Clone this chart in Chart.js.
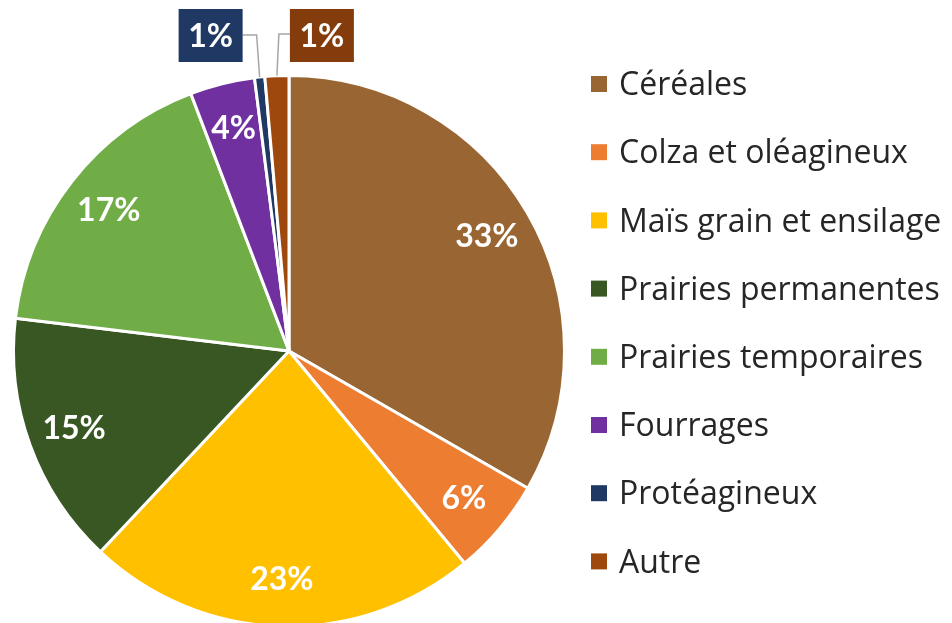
<!DOCTYPE html>
<html>
<head>
<meta charset="utf-8">
<script src="https://cdn.jsdelivr.net/npm/chart.js@4/dist/chart.umd.min.js"></script>
<style>
  html, body { margin: 0; padding: 0; background: #fff; overflow: hidden; }
  #wrap { width: 952px; height: 640px; position: relative; }
</style>
</head>
<body>
<div id="wrap"><canvas id="pieChart"></canvas></div>
<script>
// données
const categories = ['Céréales', 'Colza et oléagineux', 'Maïs grain et ensilage', 'Prairies permanentes',
  'Prairies temporaires', 'Fourrages', 'Protéagineux', 'Autre'];
const shares = [33.3, 5.7, 23.0, 14.9, 17.3, 3.8, 0.6, 1.4];
const sliceColors = ['#996633', '#ED7D31', '#FFC000', '#385723', '#70AD47', '#7030A0', '#203864', '#9E480E'];
const calloutColors = { 6: '#203864', 7: '#843C0C' };

const fontName = 'Lato, "Open Sans", sans-serif';

// étiquettes des parts
const sliceLabels = {
  id: 'sliceLabels',
  afterDatasetsDraw(chart) {
    const ctx = chart.ctx;
    const meta = chart.getDatasetMeta(0);
    ctx.save();
    ctx.textAlign = 'center';
    ctx.textBaseline = 'middle';
    ctx.font = 'bold 32px ' + fontName;
    meta.data.forEach((arc, i) => {
      const txt = Math.round(shares[i]) + '%';
      const mid = (arc.startAngle + arc.endAngle) / 2;
      if (calloutColors[i]) {
        // boîte au-dessus avec trait de rappel
        const bw = 64, bh = 53;
        const edgeX = arc.x + Math.cos(mid) * arc.outerRadius;
        const edgeY = arc.y + Math.sin(mid) * arc.outerRadius;
        const bx = i === 6 ? edgeX - 81 : edgeX + 13;
        const by = 9;
        ctx.strokeStyle = '#A6A6A6';
        ctx.lineWidth = 1.5;
        ctx.beginPath();
        if (i === 6) {
          ctx.moveTo(bx + bw, by + 26);
          ctx.lineTo(edgeX - 3, by + 26);
        } else {
          ctx.moveTo(bx, by + 25);
          ctx.lineTo(edgeX + 2, by + 25);
        }
        ctx.lineTo(edgeX, edgeY);
        ctx.stroke();
        ctx.fillStyle = calloutColors[i];
        ctx.fillRect(bx, by, bw, bh);
        ctx.fillStyle = '#fff';
        ctx.fillText(txt, bx + bw / 2, by + bh / 2 + 1);
      } else {
        const r = arc.outerRadius * 0.83;
        ctx.fillStyle = '#fff';
        ctx.fillText(txt, arc.x + Math.cos(mid) * r, arc.y + Math.sin(mid) * r);
      }
    });
    ctx.restore();
  }
};

// légende à droite
const sideLegend = {
  id: 'sideLegend',
  afterDraw(chart) {
    const ctx = chart.ctx;
    ctx.save();
    ctx.font = '32px "Open Sans", sans-serif';
    ctx.textBaseline = 'middle';
    ctx.textAlign = 'left';
    categories.forEach((name, i) => {
      const y = 84 + i * 68.2;
      ctx.fillStyle = sliceColors[i];
      ctx.fillRect(591, y - 8, 16, 16);
      ctx.fillStyle = '#262626';
      ctx.fillText(name, 619, y + 2);
    });
    ctx.restore();
  }
};

new Chart(document.getElementById('pieChart'), {
  type: 'pie',
  data: {
    labels: categories,
    datasets: [{
      data: shares,
      backgroundColor: sliceColors,
      borderColor: '#ffffff',
      borderWidth: 3
    }]
  },
  options: {
    responsive: true,
    maintainAspectRatio: false,
    animation: false,
    layout: { padding: { left: 12, right: 386, top: 74, bottom: 12 } },
    plugins: {
      legend: { display: false },
      tooltip: { enabled: false }
    }
  },
  plugins: [sliceLabels, sideLegend]
});
</script>
</body>
</html>
